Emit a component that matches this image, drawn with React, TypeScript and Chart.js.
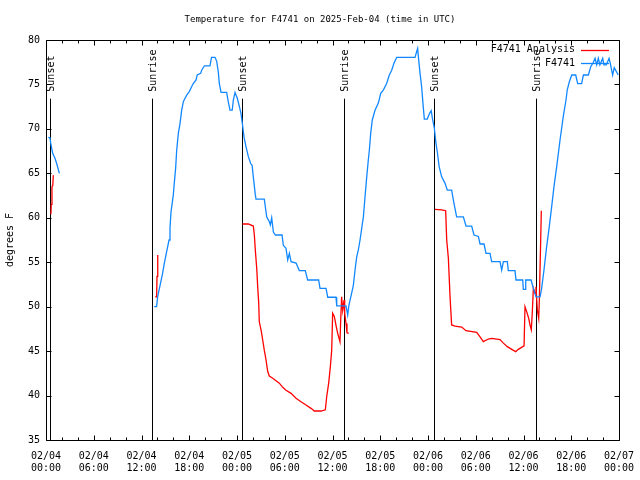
import React, { useEffect, useRef } from "react";
import { Chart, registerables } from "chart.js";

Chart.register(...registerables);

const TITLE = "Temperature for F4741 on 2025-Feb-04 (time in UTC)";
const Y_TITLE = "degrees F";
const FONT = "'DejaVu Sans Mono', 'Liberation Mono', monospace";

const xTickHours = [0, 6, 12, 18, 24, 30, 36, 42, 48, 54, 60, 66, 72];
const xTickDates = ["02/04", "02/04", "02/04", "02/04", "02/05", "02/05", "02/05", "02/05", "02/06", "02/06", "02/06", "02/06", "02/07"];
const xTickTimes = ["00:00", "06:00", "12:00", "18:00", "00:00", "06:00", "12:00", "18:00", "00:00", "06:00", "12:00", "18:00", "00:00"];
const yTicks = [35, 40, 45, 50, 55, 60, 65, 70, 75, 80];

const sunEventHours = [0.54, 13.36, 24.67, 37.49, 48.8, 61.6];
const sunEventLabels = ["Sunset", "Sunrise", "Sunset", "Sunrise", "Sunset", "Sunrise"];
const sunLineTop = 73.4;

const seriesNames = ["F4741 Analysis", "F4741"];
const seriesColors = ["#ff0000", "#1188ff"];

// F4741 observations (hours since 02/04 00:00 UTC, degrees F); null = gap
const blueHours = [
  0.29, 0.5, 0.59, 0.84, 1.13, 1.34, 1.68,
  7,
  13.6, 13.9, 14.03, 14.33, 14.62, 14.87, 15.16, 15.46, 15.58, 15.7, 15.85, 16.0, 16.12, 16.3, 16.42, 16.63, 16.84,
  17.05, 17.26, 17.47, 17.68, 18.0, 18.3, 18.5, 18.85, 19.0, 19.43, 19.56, 19.9, 20.6, 20.8, 21.24, 21.45, 21.65,
  21.78, 22.0, 22.7, 22.9, 23.12, 23.4, 23.54, 23.75, 24.04, 24.3, 24.5, 24.7, 24.88, 25.13, 25.42, 25.72, 25.9,
  26.05, 26.3, 26.39, 27.43, 27.73, 28.06, 28.19, 28.36, 28.57, 28.82, 29.66, 29.82, 30.16, 30.37, 30.58, 30.79,
  31.42, 31.83, 32.58, 32.88, 34.26, 34.43, 35.19, 35.4, 36.44, 36.53, 37.7, 37.91, 38.04, 38.12, 38.4, 38.62,
  38.83, 39.04, 39.25, 39.46, 39.67, 39.88, 40.09, 40.3, 40.5, 40.63, 40.8, 41.0, 41.34, 41.76, 42.06, 42.4, 42.8,
  43.14, 43.44, 43.73, 44.07, 46.37, 46.58, 46.7, 46.83, 47.0, 47.2, 47.4, 47.54, 47.9, 48.2, 48.4, 48.55, 48.8,
  49.0, 49.2, 49.4, 49.72, 50.13, 50.43, 50.97, 51.27, 51.6, 52.44, 52.78, 53.49, 53.78, 54.33, 54.54, 55.04,
  55.29, 55.79, 56.0, 57.05, 57.26, 57.47, 57.97, 58.09, 58.93, 59.06, 59.9, 59.98, 60.2, 60.28, 60.95, 61.24,
  61.57, 62.08, 62.28, 62.57, 62.91, 63.24, 63.54, 63.83, 64.17, 64.59, 65.0, 65.34, 65.5, 65.76, 66.06, 66.56,
  66.81, 67.31, 67.52, 68.15, 68.45, 68.78, 68.99, 69.2, 69.4, 69.6, 69.95, 70.1, 70.4, 70.75, 70.9, 71.2, 71.4,
  71.7, 71.9,
];
const blueTemps = [
  69.05, 69.0, 68.4, 67.25, 66.7, 66.1, 65.0,
  null,
  50.0, 50.0, 51.1, 52.4, 53.6, 54.9, 56.2, 57.5, 58.8, 60.6, 61.6, 62.6, 63.9, 65.7, 67.6, 69.5, 70.6,
  72.1, 73.06, 73.44, 73.8, 74.2, 74.75, 75.1, 75.5, 76.06, 76.25, 76.6, 77.1, 77.1, 78.05, 78.05, 77.6, 76.4,
  75.1, 74.1, 74.1, 73.06, 72.1, 72.1, 73.25, 74.1, 73.44, 72.5, 71.75, 70.4, 69.1, 68.0, 66.9, 66.1, 65.9,
  64.6, 62.6, 62.1, 62.1, 60.1, 59.56, 59.2, 60.0, 58.4, 58.06, 58.06, 56.9, 56.56, 55.25, 56.0, 55.06,
  54.9, 54.06, 54.06, 53.0, 53.0, 52.06, 52.06, 51.06, 51.06, 50.1, 50.1, 49.06, 50.0, 50.4, 51.5, 52.4,
  54.1, 55.6, 56.4, 57.5, 58.8, 60.1, 62.4, 64.6, 66.5, 67.6, 69.5, 71.0, 72.1, 72.9, 74.0, 74.4, 75.1,
  76.06, 76.6, 77.4, 78.05, 78.05, 78.7, 79.06, 77.75, 76.25, 74.75, 72.5, 71.1, 71.1, 71.75, 72.05, 71.2, 70.06,
  68.4, 67.2, 65.75, 64.6, 63.9, 63.1, 63.1, 61.6, 60.1, 60.1, 59.07, 59.07, 58.06, 57.9, 57.05, 57.05,
  56.0, 56.0, 55.06, 55.06, 54.1, 55.06, 55.06, 54.05, 54.05, 53.0, 53.0, 51.95, 51.95, 53.0, 53.0, 52.06,
  51.1, 51.1, 52.06, 54.1, 56.75, 59.0, 61.25, 63.5, 65.75, 68.75, 71.4, 73.25, 74.4, 75.3, 76.06, 76.06,
  75.1, 75.1, 76.06, 76.06, 77.0, 77.5, 77.94, 77.2, 77.94, 77.2, 77.94, 77.2, 77.2, 77.94, 77.4, 76.06, 76.9,
  76.4, 76.06,
];

// F4741 Analysis
const redHours = [
  0.62, 0.66, 0.75, 0.85, 0.92,
  7,
  13.72, 13.9, 13.95, 14.03, 14.05,
  20,
  24.7, 25.42, 26.05, 26.18, 26.3, 26.48, 26.6, 26.73, 26.8, 27.02, 27.23, 27.43, 27.65, 27.86, 28.06, 28.49,
  28.9, 29.32, 29.74, 30.16, 30.79, 31.42, 32.04, 32.67, 33.3, 33.72, 34.56, 35.1, 35.27, 35.52, 35.73, 35.9,
  36.02, 36.23, 36.44, 36.65, 36.94, 37.03, 37.15, 37.28, 37.45, 37.53, 37.7, 37.82, 38.04,
  43,
  48.88, 49.72, 50.22, 50.35, 50.56, 50.77, 50.97, 51.4, 52.23, 52.78, 54.12, 54.54, 54.95, 55.58, 56.0, 57.05,
  57.47, 57.97, 58.52, 59.02, 59.35, 60.07, 60.19, 60.4, 60.65, 60.82, 60.98, 61.1, 61.24, 61.45, 61.57, 61.74,
  61.91, 61.99, 62.16, 62.24,
];
const redTemps = [
  60.4, 61.5, 63.5, 63.6, 64.8,
  null,
  51.1, 51.1, 53.4, 53.4, 55.8,
  null,
  59.3, 59.3, 59.07, 58.06, 56.4, 54.3, 52.25, 50.4, 48.3, 47.4, 46.25, 45.1, 44.0, 42.7, 42.2, 41.94,
  41.67, 41.4, 40.93, 40.6, 40.25, 39.7, 39.3, 38.94, 38.56, 38.26, 38.26, 38.4, 39.87, 41.4, 43.25, 45.1,
  49.25, 48.9, 47.9, 47.0, 46.06, 48.5, 51.1, 49.6, 50.75, 49.25, 48.1, 47.06, 47.0,
  null,
  60.95, 60.9, 60.8, 57.5, 55.44, 51.1, 47.94, 47.8, 47.7, 47.3, 47.1, 46.6, 46.06, 46.36, 46.44, 46.3,
  45.9, 45.5, 45.2, 44.94, 45.2, 45.6, 50.0, 49.44, 48.7, 47.94, 47.4, 49.25, 52.06, 51.5, 52.25, 49.6,
  48.7, 50.75, 57.5, 60.8,
];

const decorPlugin = {
  id: "gnuplotDecor",
  beforeDatasetsDraw(chart: any) {
    const { ctx, chartArea: a, scales } = chart;
    const xs = scales.x;
    const ys = scales.y;
    ctx.save();
    ctx.fillStyle = "#000";
    ctx.strokeStyle = "#000";
    ctx.lineWidth = 1;

    // title
    ctx.font = `9px ${FONT}`;
    ctx.textAlign = "center";
    ctx.textBaseline = "middle";
    ctx.fillText(TITLE, 320, 19.5);

    // border
    const L = Math.round(a.left) + 0.5;
    const T = Math.round(a.top) + 0.5;
    const R = Math.round(a.right) + 0.5;
    const B = Math.round(a.bottom) + 0.5;
    ctx.beginPath();
    ctx.rect(L, T, R - L, B - T);
    ctx.stroke();

    // x ticks (major every 6h, minor every 2h), inward, bottom and top
    ctx.beginPath();
    for (let h = xTickHours[0]; h <= xTickHours[xTickHours.length - 1]; h += 2) {
      const px = Math.round(xs.getPixelForValue(h)) + 0.5;
      const len = xTickHours.includes(h) ? 5 : 3;
      ctx.moveTo(px, B);
      ctx.lineTo(px, B - len);
      ctx.moveTo(px, T);
      ctx.lineTo(px, T + len);
    }
    for (const v of yTicks) {
      const py = Math.round(ys.getPixelForValue(v)) + 0.5;
      ctx.moveTo(L, py);
      ctx.lineTo(L + 5, py);
      ctx.moveTo(R, py);
      ctx.lineTo(R - 5, py);
    }
    ctx.stroke();

    // sunrise / sunset markers
    const yTop = ys.getPixelForValue(sunLineTop);
    ctx.lineWidth = 1;
    ctx.beginPath();
    sunEventHours.forEach((h) => {
      const px = Math.round(xs.getPixelForValue(h)) + 0.5;
      ctx.moveTo(px, yTop);
      ctx.lineTo(px, a.bottom);
    });
    ctx.stroke();
    ctx.font = `10px ${FONT}`;
    ctx.textAlign = "left";
    ctx.textBaseline = "middle";
    sunEventHours.forEach((h, i) => {
      const px = xs.getPixelForValue(h);
      ctx.save();
      ctx.translate(px + 1.5, yTop - 7);
      ctx.rotate(-Math.PI / 2);
      ctx.fillText(sunEventLabels[i], 0, 0);
      ctx.restore();
    });

    // legend
    ctx.font = `10px ${FONT}`;
    ctx.textAlign = "right";
    ctx.lineWidth = 1.3;
    seriesNames.forEach((name, i) => {
      const y = a.top + 9.5 + i * 13.5;
      ctx.fillStyle = "#000";
      ctx.fillText(name, a.right - 44, y);
      ctx.strokeStyle = seriesColors[i];
      ctx.beginPath();
      ctx.moveTo(a.right - 38, Math.round(y) + 0.5);
      ctx.lineTo(a.right - 10, Math.round(y) + 0.5);
      ctx.stroke();
    });
    ctx.restore();
  },
};

export default function App() {
  const ref = useRef<HTMLCanvasElement | null>(null);

  useEffect(() => {
    if (!ref.current) return;
    const chart = new Chart(ref.current, {
      type: "line",
      data: {
        datasets: [
          {
            label: seriesNames[0],
            data: redHours.map((h, i) => ({ x: h, y: redTemps[i] })),
            borderColor: seriesColors[0],
            backgroundColor: seriesColors[0],
            borderWidth: 1.3,
            pointRadius: 0,
            tension: 0,
            spanGaps: false,
            order: 1,
          },
          {
            label: seriesNames[1],
            data: blueHours.map((h, i) => ({ x: h, y: blueTemps[i] })),
            borderColor: seriesColors[1],
            backgroundColor: seriesColors[1],
            borderWidth: 1.3,
            pointRadius: 0,
            tension: 0,
            spanGaps: false,
            order: 0,
          },
        ],
      },
      options: {
        animation: false,
        responsive: false,
        maintainAspectRatio: false,
        layout: { padding: { top: 40, right: 21, left: 0, bottom: 0 } },
        plugins: {
          legend: { display: false },
          title: { display: false },
          tooltip: { enabled: false },
        },
        scales: {
          x: {
            type: "linear",
            min: xTickHours[0],
            max: xTickHours[xTickHours.length - 1],
            afterFit: (s: any) => {
              s.height = 40;
              s.paddingLeft = 0;
              s.paddingRight = 0;
            },
            grid: { display: false, drawTicks: false },
            border: { display: false },
            ticks: {
              stepSize: 6,
              autoSkip: false,
              maxRotation: 0,
              minRotation: 0,
              padding: 10,
              color: "#000",
              font: { family: FONT, size: 10, lineHeight: 1.2 },
              callback: (v: any) => {
                const i = xTickHours.indexOf(Number(v));
                return i >= 0 ? [xTickDates[i], xTickTimes[i]] : "";
              },
            },
          },
          y: {
            type: "linear",
            min: yTicks[0],
            max: yTicks[yTicks.length - 1],
            afterFit: (s: any) => {
              s.width = 46;
              s.paddingTop = 0;
              s.paddingBottom = 0;
            },
            grid: { display: false, drawTicks: false },
            border: { display: false },
            ticks: {
              stepSize: 5,
              autoSkip: false,
              padding: 6,
              color: "#000",
              font: { family: FONT, size: 10 },
              callback: (v: any) => String(v),
            },
            title: {
              display: true,
              text: Y_TITLE,
              color: "#000",
              font: { family: FONT, size: 10 },
              padding: { top: 4, bottom: 0 },
            },
          },
        },
      },
      plugins: [decorPlugin],
    });
    return () => chart.destroy();
  }, []);

  return (
    <div style={{ position: "fixed", left: 0, top: 0, width: 640, height: 480, background: "#fff" }}>
      <canvas ref={ref} width={640} height={480} style={{ width: 640, height: 480, display: "block" }} />
    </div>
  );
}
